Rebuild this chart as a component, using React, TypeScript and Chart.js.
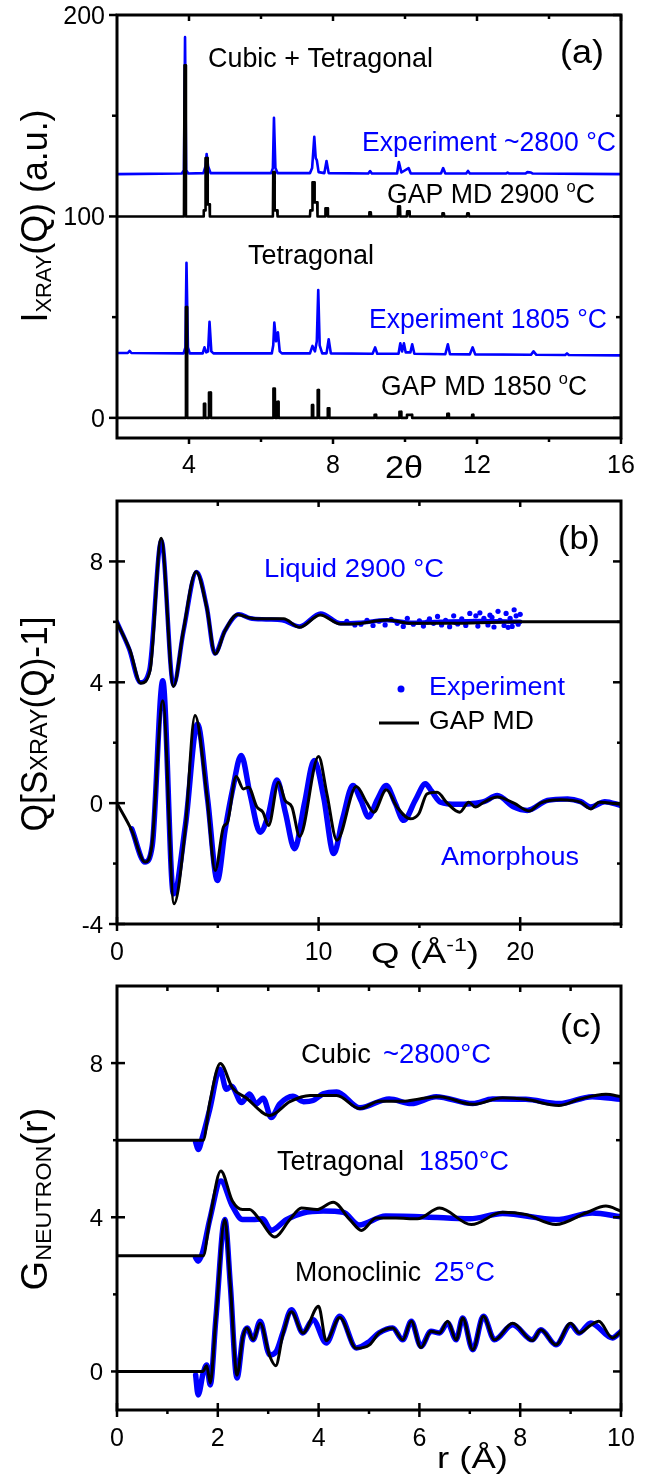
import React, { useEffect, useRef } from 'react';
import { Chart, registerables } from 'chart.js';
Chart.register(...registerables);

type P = [number, number];
const BLUE = '#0000ff';
const BLACK = '#000000';
const FONT = "'Liberation Sans', Arial, sans-serif";

// ---------------- Panel (a): X-ray diffraction, 2theta ----------------
const expHigh: P[] = [
  [2.0, 121], [3.8, 121.3], [3.86, 123], [3.89, 189], [3.92, 123], [3.98, 121.3],
  [4.4, 121.5], [4.46, 125], [4.49, 131], [4.53, 125], [4.6, 121.5],
  [6.28, 121.5], [6.33, 124], [6.36, 149], [6.4, 124], [6.46, 121.5],
  [7.36, 121.5], [7.42, 124], [7.48, 139.5], [7.52, 129], [7.55, 128], [7.6, 122],
  [7.76, 121.5], [7.82, 127.5], [7.88, 121.5],
  [8.98, 121.3], [9.03, 122.5], [9.08, 121.3],
  [9.78, 121.3], [9.83, 127], [9.9, 121.8], [10.1, 124], [10.16, 121.3],
  [11.0, 121.3], [11.06, 124], [11.12, 121.3],
  [11.7, 121.3], [11.75, 122.6], [11.8, 121.3],
  [12.8, 121.3], [12.85, 121.8], [12.9, 121.3],
  [13.35, 121.3], [13.4, 122], [13.5, 121.8], [13.55, 121.3],
  [16, 121],
];
const gapHigh: P[] = [
  [2, 100], [3.86, 100], [3.875, 175], [3.9, 175], [3.915, 100],
  [4.4, 100], [4.41, 103], [4.45, 103], [4.46, 129], [4.51, 129], [4.52, 106], [4.57, 106], [4.58, 100],
  [6.33, 100], [6.34, 122], [6.37, 122], [6.38, 103], [6.45, 103], [6.46, 100],
  [7.36, 100], [7.37, 103], [7.42, 103], [7.43, 117], [7.48, 117], [7.49, 107], [7.56, 107], [7.57, 100],
  [7.78, 100], [7.79, 104], [7.85, 104], [7.86, 100],
  [9.0, 100], [9.01, 102], [9.05, 102], [9.06, 100],
  [9.8, 100], [9.81, 105], [9.86, 105], [9.87, 100], [10.05, 100], [10.06, 102.5], [10.12, 102.5], [10.13, 100],
  [11.03, 100], [11.04, 101.5], [11.08, 101.5], [11.09, 100],
  [11.72, 100], [11.73, 101.5], [11.77, 101.5], [11.78, 100],
  [16, 100],
];
const exp1805: P[] = [
  [2, 32.2], [2.3, 32.2], [2.35, 33.2], [2.4, 32.2],
  [3.85, 32], [3.9, 35], [3.93, 77], [3.97, 35], [4.02, 32],
  [4.38, 32], [4.43, 35], [4.48, 32.5], [4.53, 33], [4.57, 47.7], [4.62, 33], [4.68, 32],
  [6.3, 32], [6.34, 36], [6.37, 47.3], [6.42, 38], [6.47, 42.5], [6.52, 33], [6.58, 32],
  [7.36, 32], [7.43, 35.7], [7.5, 33], [7.55, 38], [7.59, 63.5], [7.63, 36], [7.7, 32],
  [7.82, 32], [7.88, 39], [7.94, 32],
  [9.1, 31.8], [9.17, 35], [9.23, 31.8],
  [9.82, 31.8], [9.87, 37], [9.92, 33], [9.97, 37], [10.02, 32.5], [10.15, 32.5], [10.2, 36.5], [10.26, 31.8],
  [11.12, 31.6], [11.19, 36.5], [11.25, 31.6],
  [11.8, 31.5], [11.88, 35], [11.95, 31.5],
  [13.5, 31.3], [13.57, 33], [13.65, 31.3],
  [14.45, 31.2], [14.5, 32], [14.55, 31.2],
  [16, 31],
];
const gap1850: P[] = [
  [2, 0], [3.91, 0], [3.915, 55], [3.945, 55], [3.95, 0],
  [4.41, 0], [4.415, 7], [4.445, 7], [4.45, 0], [4.55, 0], [4.555, 12.6], [4.605, 12.6], [4.61, 0],
  [6.34, 0], [6.345, 14.6], [6.385, 14.6], [6.39, 0], [6.45, 0], [6.455, 8], [6.485, 8], [6.49, 0],
  [7.41, 0], [7.415, 6.3], [7.445, 6.3], [7.45, 0], [7.57, 0], [7.575, 13.8], [7.605, 13.8], [7.61, 0],
  [7.85, 0], [7.855, 4.8], [7.895, 4.8], [7.9, 0],
  [9.15, 0], [9.155, 1.5], [9.195, 1.5], [9.2, 0],
  [9.84, 0], [9.845, 3], [9.895, 3], [9.9, 0], [10.05, 0], [10.055, 1.5], [10.195, 1.5], [10.2, 0],
  [11.17, 0], [11.175, 2], [11.215, 2], [11.22, 0],
  [11.86, 0], [11.865, 1.5], [11.895, 1.5], [11.9, 0],
  [16, 0],
];

// ---------------- Panel (b): Q[S(Q)-1] ----------------
const liquidMD: P[] = [
  [0, 5.98], [0.65, 5.05], [1.18, 3.97], [1.64, 4.39], [2.19, 8.77], [2.8, 3.86], [3.29, 5.71],
  [3.92, 7.66], [4.45, 6.48], [4.87, 4.94], [5.36, 5.71], [5.98, 6.24], [6.6, 6.13], [7.43, 6.1],
  [8.26, 6.1], [9.06, 5.82], [10.08, 6.23], [11.08, 5.93], [11.7, 5.93], [13.4, 6.06], [14.6, 5.95],
  [16.9, 5.95], [20, 6.0], [25, 6.0],
];
const liquidExp: P[] = [
  [0, 6.0], [0.6, 5.1], [1.15, 4.0], [1.6, 4.4], [2.2, 8.7], [2.8, 3.9], [3.3, 5.7], [3.95, 7.65],
  [4.45, 6.5], [4.85, 4.95], [5.35, 5.7], [6.05, 6.25], [6.6, 6.12], [7.4, 6.08], [8.2, 6.05],
  [9.05, 5.85], [10.1, 6.28], [11.1, 5.95], [12, 5.97], [13.4, 6.05], [14.6, 5.97], [16, 6.0],
  [18, 6.03], [20, 6.0],
];
const liquidExpScatter: P[] = [
  [11.4, 6.02], [11.8, 5.9], [12.1, 5.92], [12.4, 6.05], [12.7, 5.88], [13.0, 6.02], [13.3, 5.9],
  [13.6, 6.08], [13.9, 5.95], [14.2, 5.85], [14.4, 6.12], [14.7, 5.92], [15.0, 6.03], [15.2, 5.86],
  [15.4, 6.0], [15.5, 6.1], [15.7, 5.95], [15.9, 6.18], [16.1, 5.9], [16.3, 6.05], [16.5, 5.84],
  [16.7, 6.2], [16.8, 5.98], [16.9, 5.93], [17.1, 6.1], [17.3, 5.88], [17.5, 6.28], [17.7, 6.02],
  [17.8, 6.2], [17.9, 5.86], [18.0, 6.3], [18.2, 6.12], [18.4, 5.9], [18.5, 6.22], [18.6, 6.15],
  [18.7, 5.83], [18.9, 6.35], [19.0, 6.05], [19.2, 5.88], [19.3, 6.28], [19.4, 5.82], [19.5, 6.12],
  [19.6, 5.85], [19.7, 6.4], [19.8, 6.2], [19.9, 5.92], [20.0, 6.25],
];
const amorMD: P[] = [
  [0, 0], [0.73, -0.9], [1.39, -1.95], [1.72, -1.45], [2.27, 3.39], [2.83, -3.33], [3.38, -0.9],
  [3.87, 2.9], [4.45, 0.31], [4.87, -2.23], [5.28, -0.79], [5.48, -0.63], [5.91, 0.88], [6.27, 0.47],
  [6.52, 0.53], [6.94, -0.13], [7.24, -0.3], [7.52, -0.74], [8.01, 0.69], [8.34, 0.09], [8.68, -0.13],
  [9.06, -1.1], [10.0, 1.54], [10.41, 0.31], [10.91, -1.23], [11.87, 0.55], [12.4, 0.0], [12.73, -0.3],
  [13.36, 0.44], [13.89, -0.13], [14.55, -0.52], [14.97, -0.35], [15.38, 0.31], [15.88, 0.36],
  [16.38, 0], [17.0, -0.3], [17.45, 0.03], [17.78, -0.13], [18.2, 0.03], [18.86, 0.2], [19.69, 0],
  [20.44, -0.26], [21.0, 0], [22.0, 0.11], [23.0, 0.03], [23.5, -0.19], [23.91, 0.03], [25, -0.04],
];
const amorExp: P[] = [
  [0.73, -0.85], [1.39, -1.95], [1.75, -1.4], [2.27, 4.05], [2.8, -3.0], [3.4, -0.7], [3.99, 2.62],
  [4.5, 0.1], [4.98, -2.56], [5.36, -0.9], [5.75, 0.5], [6.16, 1.58], [6.6, 0.3], [7.1, -0.96],
  [7.5, -0.4], [7.93, 0.77], [8.35, -0.3], [8.81, -1.51], [9.3, 0.0], [9.78, 1.41], [10.25, 0.2],
  [10.75, -1.67], [11.2, -0.5], [11.7, 0.58], [12.1, 0.09], [12.48, -0.46], [12.9, 0.1], [13.36, 0.58],
  [13.8, 0.0], [14.22, -0.57], [14.8, 0.1], [15.3, 0.64], [15.6, 0.4], [16.05, 0.03], [16.87, -0.04],
  [17.53, -0.02], [18.2, 0.05], [18.86, 0.25], [19.69, -0.13], [20.35, -0.24], [21.35, 0.09],
  [22.35, 0.14], [23.0, 0.05], [23.5, -0.13], [24.2, 0.05], [25, -0.08],
];

// ---------------- Panel (c): G(r) neutron ----------------
const cubicMD: P[] = [
  [0, 6], [1.71, 6.0], [1.84, 6.97], [2.05, 7.99], [2.29, 7.36], [2.56, 7.1], [3.03, 6.64], [3.43, 7.0],
  [3.83, 7.16], [4.36, 7.16], [4.82, 6.82], [5.2, 7.01], [5.67, 7.01], [6.0, 7.07], [6.4, 7.13],
  [7.06, 6.93], [7.65, 7.1], [8.11, 7.06], [8.77, 6.9], [9.17, 7.06], [9.7, 7.19], [10, 7.13],
];
const cubicExp: P[] = [
  [1.56, 5.95], [1.61, 5.76], [1.7, 6.1], [1.84, 6.8], [2.04, 7.84], [2.17, 7.32], [2.27, 7.4],
  [2.47, 6.98], [2.63, 7.2], [2.76, 6.94], [2.9, 7.09], [3.06, 6.59], [3.23, 6.94], [3.49, 7.14],
  [3.7, 7.0], [3.89, 7.03], [4.09, 7.2], [4.36, 7.25], [4.82, 6.84], [5.4, 7.07], [5.84, 6.95],
  [6.33, 7.13], [7.06, 6.95], [7.45, 7.07], [8.11, 7.06], [8.77, 6.95], [9.43, 7.13], [10, 7.06],
];
const tetraMD: P[] = [
  [0, 3], [1.71, 3.0], [1.84, 3.94], [2.06, 5.2], [2.29, 4.42], [2.49, 4.2], [2.63, 4.2], [2.83, 3.94],
  [3.13, 3.49], [3.43, 3.94], [3.66, 4.24], [3.96, 4.2], [4.29, 4.39], [4.62, 3.94], [4.85, 3.66],
  [5.14, 3.98], [5.53, 3.98], [5.96, 3.96], [6.4, 4.24], [7.03, 3.81], [7.65, 4.13], [8.11, 4.07],
  [8.71, 3.81], [9.3, 4.11], [9.7, 4.29], [10, 4.16],
];
const tetraExp: P[] = [
  [1.56, 2.95], [1.61, 2.86], [1.7, 3.1], [1.84, 3.94], [2.06, 4.94], [2.29, 4.29], [2.49, 3.94],
  [2.69, 3.94], [2.89, 3.96], [3.06, 3.66], [3.36, 3.94], [3.69, 4.11], [4.09, 4.16], [4.49, 4.13],
  [4.8, 3.8], [5.33, 4.03], [6.12, 4.01], [7.0, 3.96], [7.65, 4.1], [8.71, 3.94], [9.43, 4.11], [10, 4.01],
];
const monoMD: P[] = [
  [0, 0], [1.7, 0], [1.78, 0.15], [1.85, -0.3], [1.96, 1.34], [2.14, 3.94], [2.25, 2.21], [2.38, -0.1],
  [2.5, 0.91], [2.58, 1.13], [2.7, 0.82], [2.84, 1.25], [3.03, 0.4], [3.15, 0.15], [3.29, 0.95],
  [3.46, 1.55], [3.69, 1.0], [4.0, 1.69], [4.15, 0.8], [4.42, 1.4], [4.75, 0.6], [5.01, 0.69], [5.2, 1.0],
  [5.47, 1.13], [5.67, 0.82], [5.84, 1.3], [6.03, 0.62], [6.23, 1.04], [6.4, 1.0], [6.56, 1.3],
  [6.73, 0.82], [6.86, 1.39], [7.06, 0.56], [7.27, 1.43], [7.49, 0.82], [7.85, 1.25], [8.24, 0.8],
  [8.41, 1.08], [8.71, 0.69], [9.0, 1.25], [9.17, 1.0], [9.4, 1.2], [9.56, 1.3], [9.83, 0.87], [10, 1.04],
];
const monoExp: P[] = [
  [1.56, -0.09], [1.61, -0.61], [1.71, -0.04], [1.78, 0.17], [1.85, -0.35], [1.96, 1.34], [2.14, 3.94],
  [2.25, 2.21], [2.38, -0.17], [2.5, 0.91], [2.58, 1.13], [2.7, 0.82], [2.84, 1.3], [3.03, 0.43],
  [3.16, 0.52], [3.29, 1.0], [3.46, 1.6], [3.69, 1.0], [3.89, 1.34], [4.15, 0.74], [4.42, 1.43],
  [4.75, 0.61], [5.01, 0.78], [5.2, 1.0], [5.47, 1.13], [5.67, 0.82], [5.84, 1.3], [6.03, 0.65],
  [6.23, 1.04], [6.4, 1.0], [6.56, 1.26], [6.73, 0.82], [6.86, 1.39], [7.06, 0.56], [7.27, 1.43],
  [7.49, 0.82], [7.85, 1.21], [8.24, 0.82], [8.41, 1.08], [8.71, 0.69], [9.0, 1.21], [9.17, 1.0],
  [9.4, 1.26], [9.83, 0.87], [10, 1.04],
];

// tick values
const aXMajor = [4, 8, 12, 16];
const aXMinor = [6, 10, 14];
const aYMajor = [0, 100, 200];
const aYMinor = [50, 150];
const bXMajor = [0, 10, 20];
const bXMinor = [5, 15, 25];
const bYMajor = [-4, 0, 4, 8];
const bYMinor = [-2, 2, 6];
const cXMajor = [0, 2, 4, 6, 8, 10];
const cXMinor = [1, 3, 5, 7, 9];
const cYMajor = [0, 4, 8];
const cYMinor = [2, 6];

// ---------------- helpers ----------------
type Seg = { t: string; s: number; c?: string; dy?: number };
type TextItem = { segs: Seg[]; x: number; y: number; w?: number; align?: 'left' | 'center' | 'right'; rot?: boolean };

function drawRich(ctx: CanvasRenderingContext2D, it: TextItem, offY: number) {
  ctx.save();
  let nat = 0;
  const widths = it.segs.map((sg) => {
    ctx.font = `${sg.s}px ${FONT}`;
    const w = ctx.measureText(sg.t).width;
    nat += w;
    return w;
  });
  const sx = it.w ? it.w / nat : 1;
  const W = nat * sx;
  ctx.translate(it.x, it.y - offY);
  if (it.rot) ctx.rotate(-Math.PI / 2);
  const start = it.align === 'center' ? -W / 2 : it.align === 'right' ? -W : 0;
  ctx.translate(start, 0);
  ctx.scale(sx, 1);
  ctx.textAlign = 'left';
  ctx.textBaseline = 'alphabetic';
  let cx = 0;
  it.segs.forEach((sg, i) => {
    ctx.font = `${sg.s}px ${FONT}`;
    ctx.fillStyle = sg.c || BLACK;
    ctx.fillText(sg.t, cx, sg.dy || 0);
    cx += widths[i];
  });
  ctx.restore();
}

type Side = { major: number[]; minor: number[]; majIn: number; majOut: number; minIn: number; minOut: number };
type Decor = {
  offY: number;
  left: Side; right: Side; top: Side; bottom: Side;
  yLab: { vals: number[]; xRight: number; size: number };
  xLab: { vals: number[]; base: number; size: number };
  texts: TextItem[];
  extra?: (ctx: CanvasRenderingContext2D, offY: number) => void;
};

function decorPlugin(d: Decor) {
  return {
    id: 'decor',
    afterDraw(chart: any) {
      const ctx: CanvasRenderingContext2D = chart.ctx;
      const { left, right, top, bottom } = chart.chartArea;
      const xs = chart.scales.x;
      const ys = chart.scales.y;
      ctx.save();
      ctx.strokeStyle = BLACK;
      ctx.lineWidth = 3;
      ctx.lineCap = 'butt';
      ctx.strokeRect(left, top, right - left, bottom - top);
      ctx.lineWidth = 2.5;
      const seg = (x1: number, y1: number, x2: number, y2: number) => {
        ctx.beginPath();
        ctx.moveTo(x1, y1);
        ctx.lineTo(x2, y2);
        ctx.stroke();
      };
      const vTicks = (s: Side, x: number, dir: number) => {
        s.major.forEach((v) => { const p = ys.getPixelForValue(v); seg(x - dir * s.majOut, p, x + dir * s.majIn, p); });
        s.minor.forEach((v) => { const p = ys.getPixelForValue(v); seg(x - dir * s.minOut, p, x + dir * s.minIn, p); });
      };
      const hTicks = (s: Side, y: number, dir: number) => {
        s.major.forEach((v) => { const p = xs.getPixelForValue(v); seg(p, y - dir * s.majOut, p, y + dir * s.majIn); });
        s.minor.forEach((v) => { const p = xs.getPixelForValue(v); seg(p, y - dir * s.minOut, p, y + dir * s.minIn); });
      };
      vTicks(d.left, left, 1);
      vTicks(d.right, right, -1);
      hTicks(d.top, top, 1);
      hTicks(d.bottom, bottom, -1);
      ctx.restore();
      d.yLab.vals.forEach((v) => {
        const p = ys.getPixelForValue(v);
        drawRich(ctx, { segs: [{ t: String(v), s: d.yLab.size }], x: d.yLab.xRight, y: p + d.offY + d.yLab.size * 0.36, align: 'right' }, d.offY);
      });
      d.xLab.vals.forEach((v) => {
        const p = xs.getPixelForValue(v);
        drawRich(ctx, { segs: [{ t: String(v), s: d.xLab.size }], x: p, y: d.xLab.base, align: 'center' }, d.offY);
      });
      d.texts.forEach((t) => drawRich(ctx, t, d.offY));
      if (d.extra) d.extra(ctx, d.offY);
    },
  };
}

const xy = (arr: P[]) => arr.map(([x, y]) => ({ x, y }));
function lineDs(data: P[], color: string, width: number, smooth: boolean) {
  return {
    data: xy(data),
    borderColor: color,
    backgroundColor: color,
    borderWidth: width,
    pointRadius: 0,
    tension: 0,
    cubicInterpolationMode: smooth ? 'monotone' : 'default',
    fill: false,
    borderJoinStyle: 'round',
    borderCapStyle: 'round',
  };
}
function pointDs(data: P[], color: string, r: number) {
  return {
    data: xy(data),
    borderColor: color,
    backgroundColor: color,
    borderWidth: 0,
    pointRadius: r,
    showLine: false,
  };
}

function makeChart(canvas: HTMLCanvasElement, datasets: any[], xr: [number, number], yr: [number, number], padding: any, decor: Decor) {
  return new Chart(canvas, {
    type: 'line',
    data: { datasets },
    options: {
      animation: false,
      responsive: false,
      devicePixelRatio: 1,
      events: [],
      layout: { padding },
      plugins: { legend: { display: false }, tooltip: { enabled: false } },
      scales: {
        x: { type: 'linear', min: xr[0], max: xr[1], display: false },
        y: { type: 'linear', min: yr[0], max: yr[1], display: false },
      },
    } as any,
    plugins: [decorPlugin(decor)],
  } as any);
}

const degSup = (s: number): Seg[] => [{ t: 'o', s: s * 0.62, dy: -s * 0.42 }, { t: 'C', s }];

export default function App() {
  const aRef = useRef<HTMLCanvasElement>(null);
  const bRef = useRef<HTMLCanvasElement>(null);
  const cRef = useRef<HTMLCanvasElement>(null);

  useEffect(() => {
    const charts: Chart[] = [];
    // ---- panel a ----
    charts.push(
      makeChart(
        aRef.current!,
        [
          lineDs(gapHigh, BLACK, 2.6, false),
          lineDs(gap1850, BLACK, 2.6, false),
          lineDs(expHigh, BLUE, 2.6, false),
          lineDs(exp1805, BLUE, 2.6, false),
        ],
        [2, 16],
        [-10, 200],
        { left: 117, right: 31, top: 15, bottom: 52 },
        {
          offY: 0,
          left: { major: aYMajor, minor: aYMinor, majIn: 0, majOut: 8, minIn: 0, minOut: 5 },
          right: { major: aYMajor, minor: aYMinor, majIn: 8, majOut: 0, minIn: 5, minOut: 0 },
          top: { major: aXMajor, minor: aXMinor, majIn: 6, majOut: 0, minIn: 4, minOut: 0 },
          bottom: { major: aXMajor, minor: aXMinor, majIn: 0, majOut: 6, minIn: 0, minOut: 4 },
          yLab: { vals: aYMajor, xRight: 105, size: 25 },
          xLab: { vals: aXMajor, base: 473, size: 25 },
          texts: [
            { segs: [{ t: '(a)', s: 34 }], x: 560, y: 63, w: 44 },
            { segs: [{ t: 'Cubic + Tetragonal', s: 28 }], x: 208, y: 67, w: 225 },
            { segs: [{ t: 'Experiment ~2800 °C', s: 27, c: BLUE }], x: 362, y: 151, w: 254 },
            { segs: [{ t: 'GAP MD 2900 ', s: 27 }, ...degSup(27)], x: 387, y: 203, w: 208 },
            { segs: [{ t: 'Tetragonal', s: 27 }], x: 248, y: 264, w: 126 },
            { segs: [{ t: 'Experiment 1805 °C', s: 27, c: BLUE }], x: 369, y: 328, w: 238 },
            { segs: [{ t: 'GAP MD 1850 ', s: 27 }, ...degSup(27)], x: 381, y: 395, w: 206 },
            { segs: [{ t: '2θ', s: 32 }], x: 385, y: 478, w: 38 },
            { segs: [{ t: 'I', s: 36 }, { t: 'XRAY', s: 22, dy: 4 }, { t: '(Q) (a.u.)', s: 36 }], x: 47, y: 216, w: 213, align: 'center', rot: true },
          ],
        }
      )
    );
    // ---- panel b ----
    charts.push(
      makeChart(
        bRef.current!,
        [
          lineDs(liquidMD, BLACK, 3, true),
          lineDs(amorMD, BLACK, 3, true),
          lineDs(liquidExp, BLUE, 4.5, true),
          pointDs(liquidExpScatter, BLUE, 2.6),
          lineDs(amorExp, BLUE, 5.5, true),
        ],
        [0, 25],
        [-4, 10],
        { left: 117, right: 31, top: 21, bottom: 56 },
        {
          offY: 480,
          left: { major: bYMajor, minor: bYMinor, majIn: 8, majOut: 8, minIn: 0, minOut: 4 },
          right: { major: bYMajor, minor: bYMinor, majIn: 8, majOut: 0, minIn: 4, minOut: 0 },
          top: { major: [10, 20], minor: [5, 15], majIn: 6, majOut: 0, minIn: 5, minOut: 0 },
          bottom: { major: bXMajor, minor: bXMinor, majIn: 7, majOut: 7, minIn: 0, minOut: 4 },
          yLab: { vals: bYMajor, xRight: 103, size: 24 },
          xLab: { vals: bXMajor, base: 960, size: 25 },
          texts: [
            { segs: [{ t: '(b)', s: 34 }], x: 558, y: 549, w: 42 },
            { segs: [{ t: 'Liquid 2900 °C', s: 26, c: BLUE }], x: 264, y: 577, w: 180 },
            { segs: [{ t: 'Experiment', s: 26, c: BLUE }], x: 429, y: 695, w: 136 },
            { segs: [{ t: 'GAP MD', s: 26 }], x: 429, y: 729, w: 105 },
            { segs: [{ t: 'Amorphous', s: 26, c: BLUE }], x: 441, y: 865, w: 138 },
            { segs: [{ t: 'Q (Å', s: 30 }, { t: '-1', s: 19, dy: -12 }, { t: ')', s: 30 }], x: 371, y: 963, w: 108 },
            { segs: [{ t: 'Q[S', s: 36 }, { t: 'XRAY', s: 24 }, { t: '(Q)-1]', s: 36 }], x: 47, y: 724, w: 215, align: 'center', rot: true },
          ],
          extra: (ctx, offY) => {
            ctx.save();
            ctx.fillStyle = BLUE;
            ctx.beginPath();
            ctx.arc(401, 689 - offY, 3.5, 0, Math.PI * 2);
            ctx.fill();
            ctx.strokeStyle = BLACK;
            ctx.lineWidth = 3;
            ctx.beginPath();
            ctx.moveTo(379, 723 - offY);
            ctx.lineTo(419, 723 - offY);
            ctx.stroke();
            ctx.restore();
          },
        }
      )
    );
    // ---- panel c ----
    charts.push(
      makeChart(
        cRef.current!,
        [
          lineDs(cubicMD, BLACK, 3, true),
          lineDs(tetraMD, BLACK, 3, true),
          lineDs(monoMD, BLACK, 3, true),
          lineDs(cubicExp, BLUE, 5.5, true),
          lineDs(tetraExp, BLUE, 5.5, true),
          lineDs(monoExp, BLUE, 5.5, true),
        ],
        [0, 10],
        [-1, 10],
        { left: 117, right: 31, top: 26, bottom: 70 },
        {
          offY: 960,
          left: { major: cYMajor, minor: cYMinor, majIn: 8, majOut: 6, minIn: 0, minOut: 4 },
          right: { major: cYMajor, minor: cYMinor, majIn: 8, majOut: 0, minIn: 5, minOut: 0 },
          top: { major: [2, 4, 6, 8], minor: cXMinor, majIn: 6, majOut: 0, minIn: 5, minOut: 0 },
          bottom: { major: cXMajor, minor: cXMinor, majIn: 7, majOut: 7, minIn: 0, minOut: 4 },
          yLab: { vals: cYMajor, xRight: 103, size: 24 },
          xLab: { vals: cXMajor, base: 1446, size: 25 },
          texts: [
            { segs: [{ t: '(c)', s: 34 }], x: 560, y: 1037, w: 42 },
            { segs: [{ t: 'Cubic', s: 27 }], x: 301, y: 1063, w: 70 },
            { segs: [{ t: '~2800°C', s: 27, c: BLUE }], x: 383, y: 1063, w: 108 },
            { segs: [{ t: 'Tetragonal', s: 27 }], x: 277, y: 1170, w: 127 },
            { segs: [{ t: '1850°C', s: 27, c: BLUE }], x: 419, y: 1170, w: 90 },
            { segs: [{ t: 'Monoclinic', s: 27 }], x: 295, y: 1281, w: 126 },
            { segs: [{ t: '25°C', s: 27, c: BLUE }], x: 434, y: 1281, w: 61 },
            { segs: [{ t: 'r (Å)', s: 30 }], x: 437, y: 1468, w: 71 },
            { segs: [{ t: 'G', s: 36 }, { t: 'NEUTRON', s: 22, dy: 4 }, { t: '(r)', s: 36 }], x: 47, y: 1199, w: 183, align: 'center', rot: true },
          ],
        }
      )
    );
    return () => charts.forEach((c) => c.destroy());
  }, []);

  return (
    <div style={{ position: 'absolute', left: 0, top: 0, width: 652, height: 1480, background: '#ffffff', overflow: 'hidden' }}>
      <canvas ref={aRef} width={652} height={490} style={{ position: 'absolute', left: 0, top: 0, width: 652, height: 490 }} />
      <canvas ref={bRef} width={652} height={500} style={{ position: 'absolute', left: 0, top: 480, width: 652, height: 500 }} />
      <canvas ref={cRef} width={652} height={520} style={{ position: 'absolute', left: 0, top: 960, width: 652, height: 520 }} />
    </div>
  );
}
